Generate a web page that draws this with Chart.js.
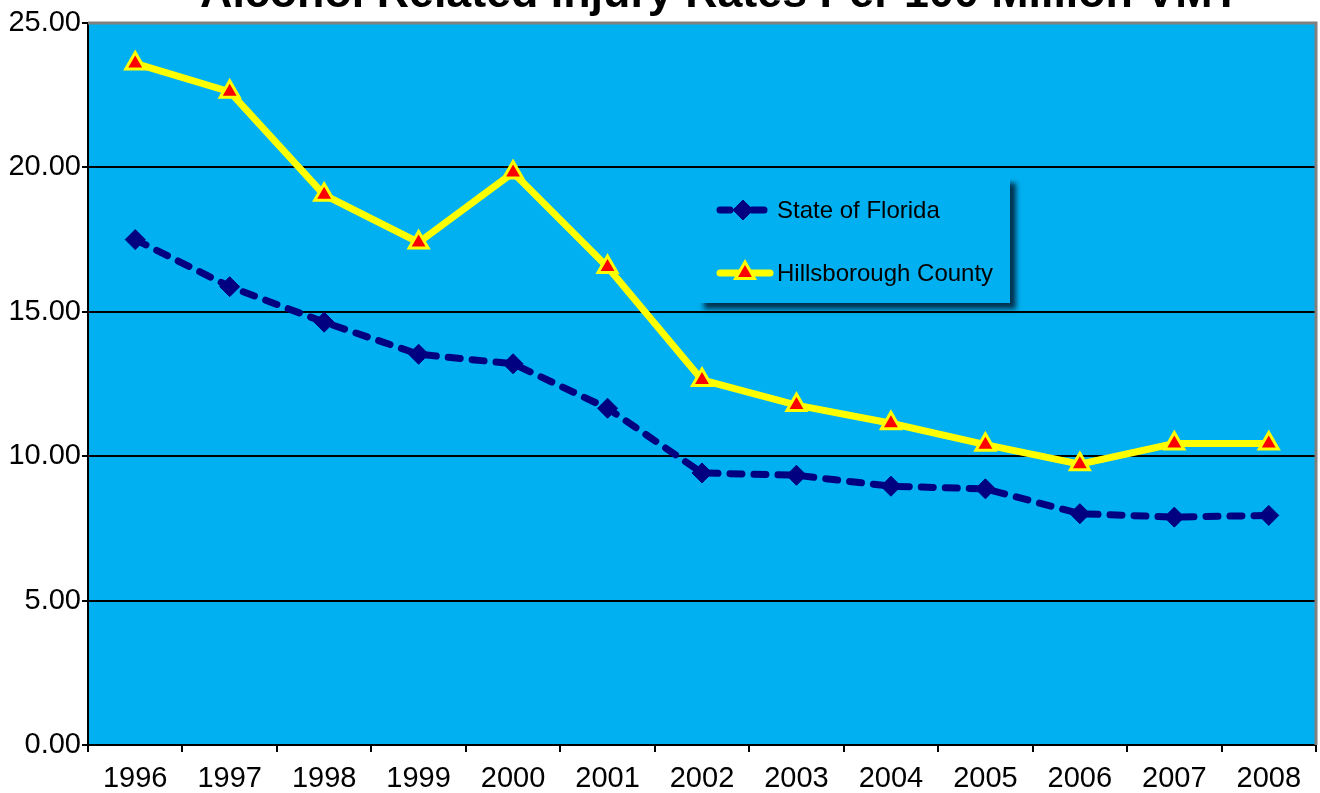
<!DOCTYPE html>
<html>
<head>
<meta charset="utf-8">
<script src="https://cdn.jsdelivr.net/npm/chart.js@4.4.0/dist/chart.umd.min.js"></script>
<style>
html,body{margin:0;padding:0;background:#fff;overflow:hidden;}
canvas{display:block;}
</style>
</head>
<body>
<canvas id="c" width="1320" height="793"></canvas>
<script>
const title = "Alcohol Related Injury Rates Per 100 Million VMT";
const years = ["1996","1997","1998","1999","2000","2001","2002","2003","2004","2005","2006","2007","2008"];
const floridaRates = [17.50, 15.87, 14.64, 13.53, 13.20, 11.66, 9.42, 9.34, 8.96, 8.87, 8.01, 7.89, 7.95];
const hillsboroughRates = [23.60, 22.62, 19.05, 17.40, 19.82, 16.55, 12.64, 11.77, 11.14, 10.40, 9.72, 10.44, 10.44];
const yTicks = [0, 5, 10, 15, 20, 25];

const FONT = "'Liberation Sans', Arial, sans-serif";
const PLOT_BG = "#00B0F0";

const bgPlugin = {
  id: 'bg',
  beforeDraw(chart) {
    const {ctx, chartArea: a} = chart;
    ctx.save();
    ctx.fillStyle = '#fff';
    ctx.fillRect(0, 0, chart.width, chart.height);
    ctx.fillStyle = PLOT_BG;
    ctx.fillRect(a.left, a.top, a.right - a.left, a.bottom - a.top);
    ctx.restore();
  },
  beforeDatasetsDraw(chart) {
    const {ctx, chartArea: a} = chart;
    ctx.save();
    ctx.strokeStyle = '#808080';
    ctx.lineWidth = 3;
    ctx.beginPath();
    ctx.moveTo(a.left, a.top);
    ctx.lineTo(a.right, a.top);
    ctx.lineTo(a.right, a.bottom);
    ctx.stroke();
    ctx.restore();
  }
};

const titlePlugin = {
  id: 'topTitle',
  afterDraw(chart) {
    const ctx = chart.ctx;
    ctx.save();
    let size = 44;
    ctx.font = `bold ${size}px ${FONT}`;
    const w = ctx.measureText(title).width;
    size = size * 1040 / w;
    ctx.font = `bold ${size}px ${FONT}`;
    ctx.fillStyle = '#000';
    ctx.textAlign = 'center';
    ctx.textBaseline = 'alphabetic';
    ctx.fillText(title, 720, 7);
    ctx.restore();
  }
};

const legendPlugin = {
  id: 'boxLegend',
  afterDatasetsDraw(chart) {
    const ctx = chart.ctx;
    const bx = 698, by = 177, bw = 312, bh = 126;
    ctx.save();
    ctx.shadowColor = 'rgba(0,20,40,0.8)';
    ctx.shadowBlur = 5;
    ctx.shadowOffsetX = 6;
    ctx.shadowOffsetY = 6;
    ctx.fillStyle = PLOT_BG;
    ctx.fillRect(bx, by, bw, bh);
    ctx.restore();

    const ds = chart.data.datasets;
    const rows = [
      {d: ds[0], y: 210, segs: [[720, 730], [752, 764]], mx: 743},
      {d: ds[1], y: 273, segs: [[720, 770]], mx: 745}
    ];
    rows.forEach(r => {
      ctx.save();
      ctx.strokeStyle = r.d.borderColor;
      ctx.lineWidth = r.d.borderWidth;
      ctx.lineCap = 'round';
      r.segs.forEach(([a, b]) => {
        ctx.beginPath();
        ctx.moveTo(a, r.y);
        ctx.lineTo(b, r.y);
        ctx.stroke();
      });
      ctx.restore();
      ctx.save();
      ctx.fillStyle = r.d.pointBackgroundColor;
      ctx.strokeStyle = r.d.pointBorderColor;
      ctx.lineWidth = r.d.pointBorderWidth;
      Chart.helpers.drawPoint(ctx, {
        pointStyle: r.d.pointStyle,
        radius: r.d.pointRadius,
        borderWidth: r.d.pointBorderWidth,
        rotation: 0
      }, r.mx, r.y);
      ctx.restore();
      ctx.save();
      ctx.fillStyle = '#000';
      ctx.font = `24px ${FONT}`;
      ctx.textAlign = 'left';
      ctx.textBaseline = 'middle';
      ctx.fillText(r.d.label, 777, r.y + 1);
      ctx.restore();
    });
  }
};

new Chart(document.getElementById('c'), {
  type: 'line',
  data: {
    labels: years,
    datasets: [
      {
        label: 'State of Florida',
        data: floridaRates,
        borderColor: '#000080',
        backgroundColor: '#000080',
        borderWidth: 7,
        borderDash: [12, 12],
        borderCapStyle: 'round',
        tension: 0,
        pointStyle: 'rectRot',
        pointRadius: 10,
        pointBorderWidth: 1,
        pointBackgroundColor: '#000080',
        pointBorderColor: '#000080'
      },
      {
        label: 'Hillsborough County',
        data: hillsboroughRates,
        borderColor: '#FFFF00',
        backgroundColor: '#FFFF00',
        borderWidth: 7,
        tension: 0,
        pointStyle: 'triangle',
        pointRadius: 11,
        pointBorderWidth: 3,
        pointBackgroundColor: '#FF0000',
        pointBorderColor: '#FFFF00'
      }
    ]
  },
  options: {
    responsive: false,
    devicePixelRatio: 1,
    animation: false,
    events: [],
    layout: {autoPadding: false, padding: {top: 23, right: 4, left: 0, bottom: 0}},
    plugins: {
      legend: {display: false},
      title: {display: false},
      tooltip: {enabled: false}
    },
    scales: {
      x: {
        type: 'category',
        offset: true,
        afterFit: s => { s.height = 48; s.paddingLeft = 0; s.paddingRight = 0; },
        grid: {
          offset: true,
          drawOnChartArea: false,
          drawTicks: true,
          tickLength: 7,
          color: '#000',
          lineWidth: 2
        },
        border: {display: true, color: '#000', width: 2},
        ticks: {
          color: '#000',
          font: {family: FONT, size: 29},
          padding: 10,
          maxRotation: 0,
          autoSkip: false
        }
      },
      y: {
        min: 0,
        max: 25,
        afterFit: s => { s.width = 88; },
        afterBuildTicks: s => { s.ticks = yTicks.map(v => ({value: v})); },
        grid: {
          drawTicks: true,
          tickLength: 6,
          color: c => (c.tick && c.tick.value === 25) ? 'rgba(0,0,0,0)' : '#000',
          tickColor: '#000',
          lineWidth: 2
        },
        border: {display: true, color: '#000', width: 2},
        ticks: {
          color: '#000',
          font: {family: FONT, size: 29},
          padding: 1,
          callback: v => Number(v).toFixed(2)
        }
      }
    }
  },
  plugins: [bgPlugin, legendPlugin, titlePlugin]
});
</script>
</body>
</html>
